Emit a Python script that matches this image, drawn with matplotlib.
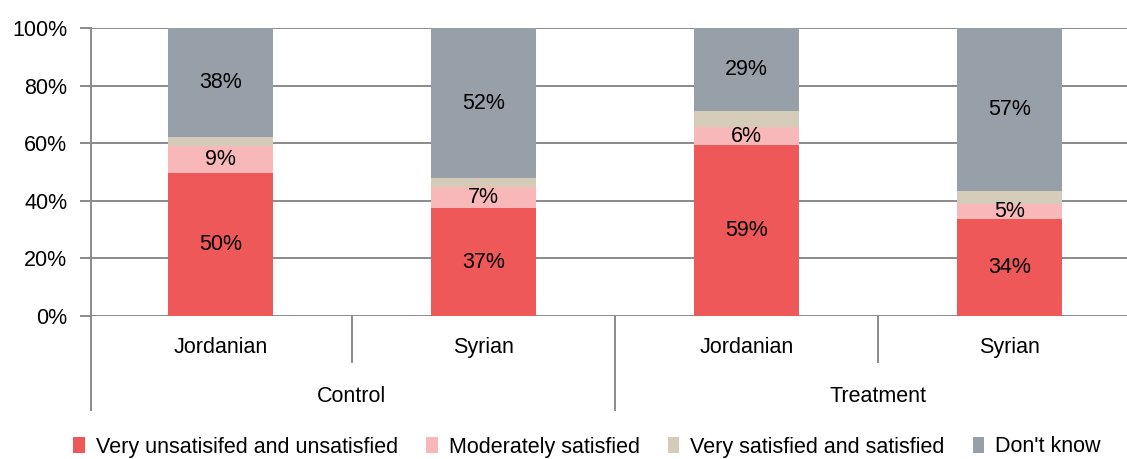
import matplotlib
matplotlib.use("Agg")
import matplotlib.pyplot as plt
import matplotlib.transforms as mtransforms
from matplotlib.lines import Line2D
from matplotlib.patches import Patch

plt.rcParams['font.family'] = ['Liberation Sans', 'DejaVu Sans']
FS = 15.5

# Data
groups = ["Control", "Treatment"]
subgroups = ["Jordanian", "Syrian", "Jordanian", "Syrian"]
series_names = ["Very unsatisifed and unsatisfied", "Moderately satisfied",
                "Very satisfied and satisfied", "Don't know"]
very_unsatisfied = [49.8, 37.4, 59.4, 33.7]
moderately_satisfied = [9.3, 7.4, 6.1, 5.1]
very_satisfied = [3.1, 3.0, 5.7, 4.6]
dont_know = [37.8, 52.2, 28.8, 56.6]
show_label = [True, True, False, True]

colors = ["#EE5858", "#F8B7B8", "#D4CCB9", "#97A0A8"]
grid_color = "#8A8A8A"

W, H = 1127, 459
fig = plt.figure(figsize=(W / 100, H / 100), dpi=100)
ax = fig.add_axes([91 / W, 143 / H, 1036 / W, 288 / H])

x = list(range(len(subgroups)))
series = [very_unsatisfied, moderately_satisfied, very_satisfied, dont_know]
bottom = [0.0] * len(x)
for vals, col, lab in zip(series, colors, show_label):
    ax.bar(x, vals, width=0.4, bottom=bottom, color=col, zorder=3)
    if lab:
        for xi, b, v in zip(x, bottom, vals):
            ax.text(xi, b + v / 2, f"{v:.0f}%", ha="center", va="center",
                    fontsize=FS, color="black", zorder=4)
    bottom = [b + v for b, v in zip(bottom, vals)]

x_left = -0.492
ax.set_ylim(0, 100)
ax.set_xlim(x_left, x_left + 1036 / 263)
ax.set_yticks(range(0, 101, 20))
ax.set_yticklabels([f"{v}%" for v in range(0, 101, 20)], fontsize=FS)
ax.yaxis.grid(True, color=grid_color, linewidth=1.4, zorder=0)
ax.tick_params(axis="y", length=8, width=1.4, color=grid_color, pad=9)
ax.set_xticks([])
for s in ["top", "right", "bottom"]:
    ax.spines[s].set_visible(False)
ax.spines["left"].set_color(grid_color)
ax.spines["left"].set_linewidth(1.4)

# Two-level category axis below the plot
trans = mtransforms.blended_transform_factory(ax.transData, ax.transAxes)
for xi, name in zip(x, subgroups):
    ax.text(xi, -0.108, name, transform=trans, ha="center", va="center", fontsize=FS)
for gi, name in enumerate(groups):
    ax.text(gi * 2 + 0.5, -0.278, name, transform=trans, ha="center", va="center", fontsize=FS)

for sep, long_line in [(x_left, True), (0.5, False), (1.5, True), (2.5, False)]:
    ax.add_line(Line2D([sep, sep], [0, -0.326 if long_line else -0.16],
                       transform=trans, color=grid_color, linewidth=1.4,
                       clip_on=False))

handles = [Patch(facecolor=c, edgecolor="none") for c in colors]
fig.legend(handles, series_names, loc="center", bbox_to_anchor=(587 / W, 12 / H),
           ncol=4, frameon=False, fontsize=FS, handlelength=0.55,
           handleheight=0.7, handletextpad=0.5, columnspacing=1.3,
           borderaxespad=0, borderpad=0)

fig.savefig("out.png", dpi=100)
